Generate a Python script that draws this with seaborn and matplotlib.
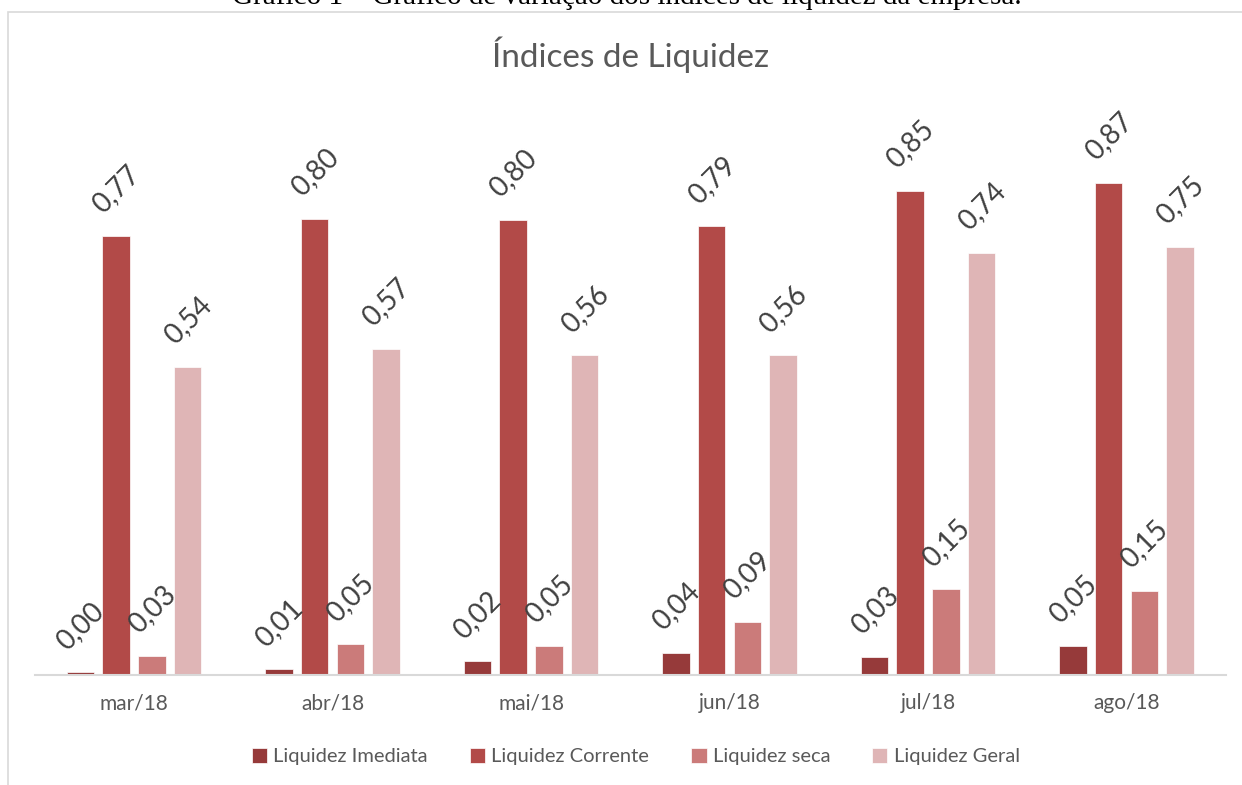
import numpy as np
import pandas as pd
import matplotlib
matplotlib.use("Agg")
import matplotlib.pyplot as plt
from matplotlib.patches import Rectangle
import seaborn as sns

# ----------------------------------------------------------------------------
# Dados
# ----------------------------------------------------------------------------
meses = ["mar/18", "abr/18", "mai/18", "jun/18", "jul/18", "ago/18"]
indices = ["Liquidez Imediata", "Liquidez Corrente", "Liquidez seca", "Liquidez Geral"]

liquidez_imediata = [0.0049, 0.010, 0.024, 0.039, 0.032, 0.051]
liquidez_corrente = [0.773, 0.803, 0.801, 0.790, 0.852, 0.866]
liquidez_seca = [0.034, 0.054, 0.051, 0.093, 0.151, 0.148]
liquidez_geral = [0.542, 0.574, 0.563, 0.563, 0.743, 0.754]

cores = ["#963A3A", "#B24A48", "#CB7B7A", "#DFB5B6"]

df = pd.DataFrame({
    "mes": meses * 4,
    "indice": np.repeat(indices, len(meses)),
    "valor": liquidez_imediata + liquidez_corrente + liquidez_seca + liquidez_geral,
})

sns.set_style("white")
plt.rcParams["font.family"] = ["Lato", "DejaVu Sans"]
cinza = "#595959"

fig = plt.figure(figsize=(12.42, 7.85), dpi=100)
ax = fig.add_axes([0.028, 0.14, 0.959, 0.7236])

sns.barplot(data=df, x="mes", y="valor", hue="indice", hue_order=indices,
            order=meses, palette=cores, saturation=1, width=0.72, gap=0.23,
            edgecolor="white", linewidth=0.5, ax=ax)

for cont in ax.containers:
    rotulos = [f"{b.get_height():.2f}".replace(".", ",") for b in cont]
    ax.bar_label(cont, labels=rotulos, rotation=45, padding=13,
                 fontsize=20, color="#404040")

ax.set_ylim(0, 1.0)
ax.set_xlim(-0.5, 5.5)
ax.set_yticks([])
ax.set_xlabel("")
ax.set_ylabel("")
for lado in ["top", "right", "left"]:
    ax.spines[lado].set_visible(False)
ax.spines["bottom"].set_color("#D9D9D9")
ax.spines["bottom"].set_linewidth(1.5)
ax.tick_params(axis="x", length=0, pad=13, labelsize=15, labelcolor=cinza)

handles, labels = ax.get_legend_handles_labels()
ax.get_legend().remove()
fig.legend(handles, labels, loc="center", bbox_to_anchor=(0.512, 0.036), ncol=4,
           frameon=False, fontsize=14.5, labelcolor=cinza, handlelength=0.75,
           handleheight=0.75, handletextpad=0.3, columnspacing=2.1)

fig.text(0.508, 0.930, "Índices de Liquidez", ha="center", va="center",
         fontsize=24, color=cinza)

# moldura da área do gráfico e legenda cortada no topo
fig.add_artist(Rectangle((8 / 1242, -0.1), 1.2, (785 - 12) / 785 + 0.1,
                         transform=fig.transFigure, fill=False,
                         edgecolor="#D9D9D9", linewidth=1.2))
fig.text(0.505, 1 - 4 / 785, "Gráfico 1 – Gráfico de variação dos índices de liquidez da empresa.",
         ha="center", va="baseline", fontsize=21, color="black",
         family=["Liberation Serif", "DejaVu Serif"])

fig.savefig("out.png", dpi=100)
